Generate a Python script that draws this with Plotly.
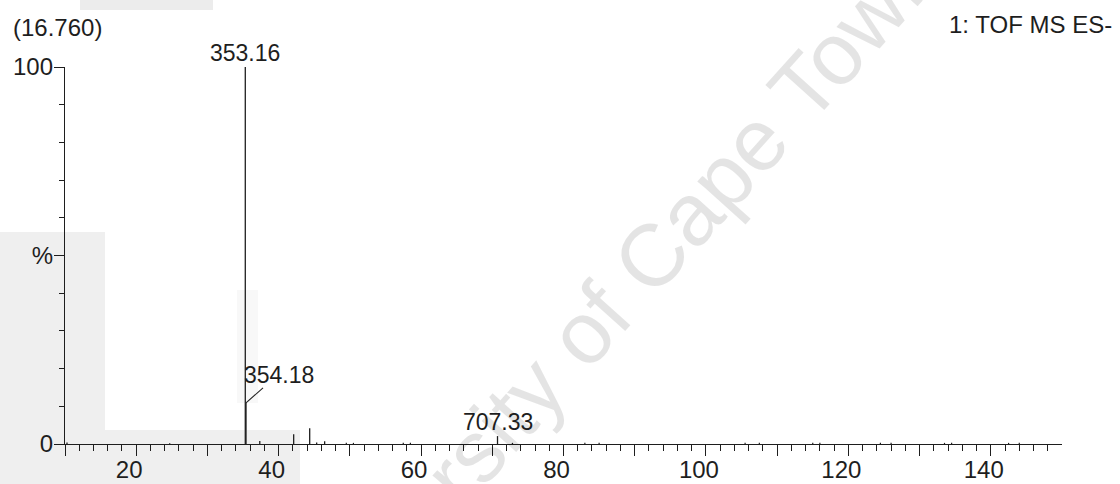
import plotly.graph_objects as go

# Centroided peaks, negative-ion TOF MS spectrum (m/z, relative intensity %)
peak_mz = [102.8, 247.0, 353.16, 354.18, 373.5, 421.1, 443.6, 453.4, 464.6, 707.33, 728.3]
peak_pct = [0.4, 0.2, 100.0, 10.9, 0.8, 2.6, 4.2, 0.4, 0.7, 2.1, 0.3]

# Low-level baseline noise
noise_mz = [495, 505, 575, 585, 830, 850, 1055, 1075, 1150, 1160, 1245, 1260, 1335, 1345, 1425, 1440]
noise_pct = [0.3, 0.3, 0.3, 0.3, 0.3, 0.3, 0.3, 0.3, 0.3, 0.3, 0.3, 0.3, 0.3, 0.3, 0.3, 0.3]

# Labelled peaks
label_mz = [353.16, 707.33]
label_pct = [100.0, 2.1]
side_label_mz = 354.18
side_label_pct = 10.9

# Axis ticks (m/z axis labelled in tens)
x_major = list(range(100, 1401, 100))
x_text = [str(v // 10) if (v // 100) % 2 == 0 else "" for v in x_major]
x_minor = [v for v in range(120, 1481, 20) if v % 100 != 0]
y_major = [0, 50, 100]
y_text = ["0", "%", "100"]
y_minor = [10, 20, 30, 40, 60, 70, 80, 90]

header_left = "(16.760)"
header_right = "1: TOF MS ES-"
watermark = "University of Cape Town"

INK = "#1e1e1e"
FONT = "Arial, Liberation Sans, sans-serif"

# Figure geometry (pixels)
W, H = 1120, 484
L, R, T, B = 65, 58, 67, 40
pw, ph = W - L - R, H - T - B


def px_to_paper_x(px):
    return (px - L) / pw


def px_to_paper_y(py):
    return (H - B - py) / ph


def sticks(xs, ys):
    sx, sy = [], []
    for x, y in zip(xs, ys):
        sx += [x, x, None]
        sy += [0, y, None]
    return sx, sy


fig = go.Figure()

nx, ny = sticks(noise_mz, noise_pct)
fig.add_trace(go.Scatter(x=nx, y=ny, mode="lines",
                         line=dict(color=INK, width=1.2),
                         hoverinfo="skip", showlegend=False))
sx, sy = sticks(peak_mz, peak_pct)
fig.add_trace(go.Scatter(x=sx, y=sy, mode="lines",
                         line=dict(color=INK, width=1.3),
                         hoverinfo="skip", showlegend=False))

annotations = []
# faint translucent watermark across the page
annotations.append(dict(text=watermark, xref="paper", yref="paper",
                        x=px_to_paper_x(606), y=px_to_paper_y(306),
                        xanchor="center", yanchor="middle", showarrow=False,
                        textangle=-48,
                        font=dict(family=FONT, size=88, color="rgba(0,0,0,0.105)")))

for m, p in zip(label_mz, label_pct):
    annotations.append(dict(text=f"{m:.2f}", x=m, y=p, xref="x", yref="y",
                            xanchor="center", yanchor="bottom", showarrow=False,
                            yshift=-1, font=dict(family=FONT, size=23, color=INK)))

annotations.append(dict(text=f"{side_label_mz:.2f}", x=side_label_mz, y=side_label_pct,
                        xref="x", yref="y", xanchor="left", yanchor="middle",
                        showarrow=False, xshift=-4, yshift=28,
                        font=dict(family=FONT, size=23, color=INK)))

annotations.append(dict(text=header_left, xref="paper", yref="paper",
                        x=px_to_paper_x(11), y=px_to_paper_y(27),
                        xanchor="left", yanchor="middle", showarrow=False,
                        font=dict(family=FONT, size=24, color=INK)))
annotations.append(dict(text=header_right, xref="paper", yref="paper",
                        x=px_to_paper_x(1114), y=px_to_paper_y(25),
                        xanchor="right", yanchor="middle", showarrow=False,
                        font=dict(family=FONT, size=24, color=INK)))

shapes = []
# light scan-grey patches behind the plot
for x0, y0, x1, y1, c in [(0, 232, 105, 484, "#efefef"),
                          (105, 430, 300, 484, "#efefef"),
                          (237, 290, 258, 403, "#f8f8f8"),
                          (80, 0, 213, 10, "#ececec")]:
    shapes.append(dict(type="rect", xref="paper", yref="paper",
                       x0=px_to_paper_x(x0), x1=px_to_paper_x(x1),
                       y0=px_to_paper_y(y1), y1=px_to_paper_y(y0),
                       fillcolor=c, line=dict(width=0), layer="below"))

# leader line for the 354.18 label
shapes.append(dict(type="line", xref="x", yref="y",
                   xsizemode="pixel", ysizemode="pixel",
                   xanchor=side_label_mz, yanchor=side_label_pct,
                   x0=0, x1=17, y0=0, y1=15,
                   line=dict(color=INK, width=1.1)))

fig.update_layout(
    width=W, height=H,
    margin=dict(l=L, r=R, t=T, b=B),
    paper_bgcolor="white", plot_bgcolor="rgba(0,0,0,0)",
    annotations=annotations, shapes=shapes,
    showlegend=False,
    font=dict(family=FONT, size=24, color=INK),
)

fig.update_xaxes(
    range=[100, 1500], showgrid=False, zeroline=False, automargin=False,
    showline=True, linecolor=INK, linewidth=1.3,
    tickmode="array", tickvals=x_major, ticktext=x_text,
    ticks="outside", ticklen=11, tickwidth=1.3, tickcolor=INK,
    ticklabelshift=-7, ticklabelstandoff=-7,
    tickfont=dict(family=FONT, size=24, color=INK),
    minor=dict(tickmode="array", tickvals=x_minor, ticks="outside",
               ticklen=6, tickwidth=1.1, tickcolor=INK, showgrid=False),
)
fig.update_yaxes(
    range=[0, 100], showgrid=False, zeroline=False, automargin=False,
    showline=True, linecolor=INK, linewidth=1.3,
    tickmode="array", tickvals=y_major, ticktext=y_text,
    ticks="outside", ticklen=10, tickwidth=1.3, tickcolor=INK,
    ticklabelstandoff=-4,
    tickfont=dict(family=FONT, size=24, color=INK),
    minor=dict(tickmode="array", tickvals=y_minor, ticks="outside",
               ticklen=5, tickwidth=1.1, tickcolor=INK, showgrid=False),
)

fig.write_html("out.html")
